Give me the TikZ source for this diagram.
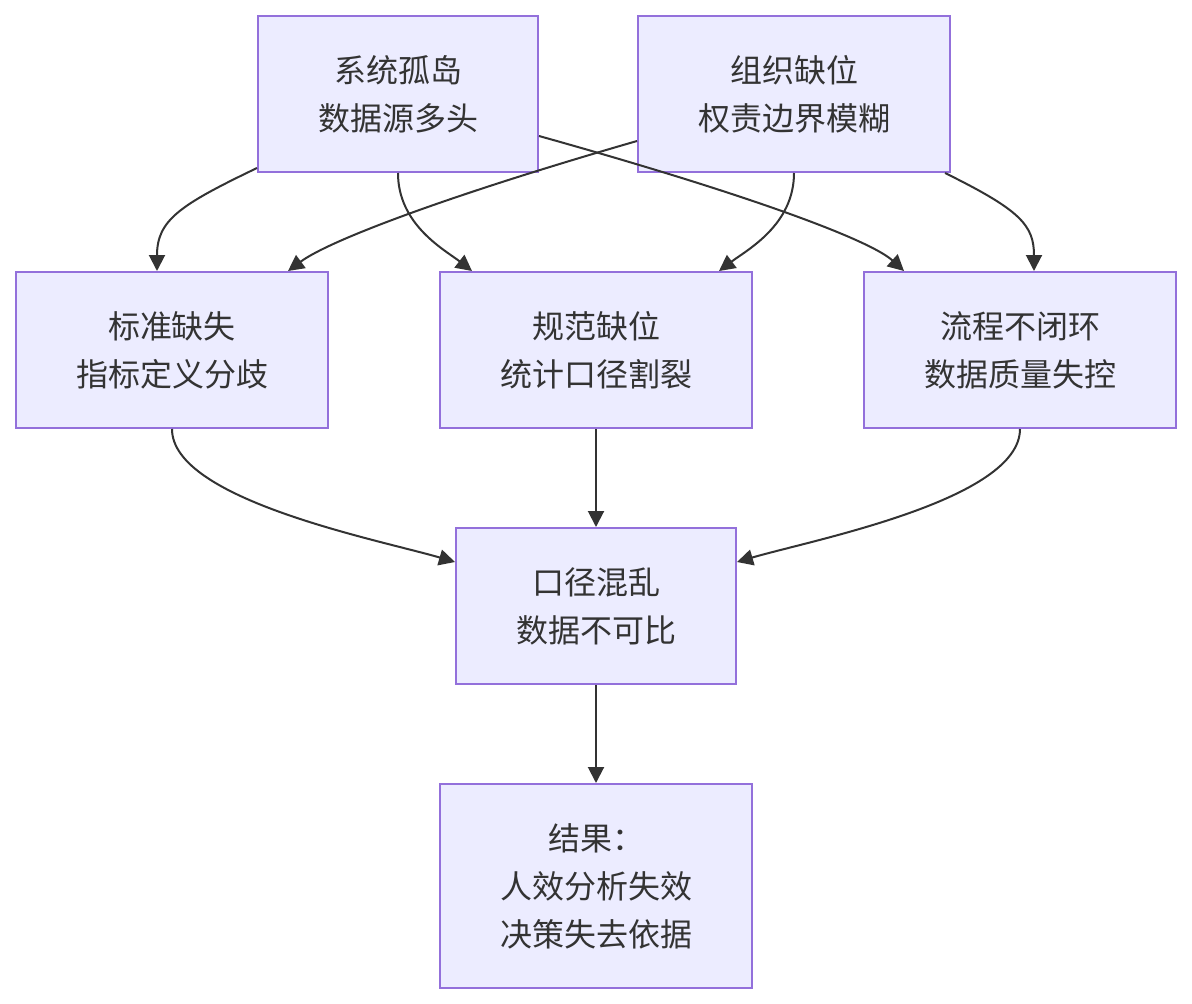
\documentclass[tikz,border=0pt]{standalone}
\usepackage{fontspec}
\setmainfont{Noto Sans CJK SC}
\usepackage{tikz}
\usetikzlibrary{arrows.meta,calc}
\definecolor{boxfill}{HTML}{ECECFF}
\definecolor{boxline}{HTML}{9370DB}
\definecolor{inkgrey}{HTML}{333333}
\tikzset{
  issue/.style={rectangle,draw=boxline,line width=2pt,fill=boxfill,
    align=center,text=inkgrey,inner sep=0pt,
    font=\fontsize{32}{48}\selectfont},
  flow/.style={-{Triangle[length=16pt,width=16pt]},line width=2pt,draw=inkgrey}
}

\begin{document}
\begin{tikzpicture}[x=1pt,y=-1pt]
  \useasboundingbox (0,0) rectangle (1192,1004);
  % top row: root causes
  \node[issue,minimum width=280pt,minimum height=156pt] (silo) at (398,94) {系统孤岛\\数据源多头};
  \node[issue,minimum width=312pt,minimum height=156pt] (org) at (794,94) {组织缺位\\权责边界模糊};
  % middle row
  \node[issue,minimum width=312pt,minimum height=156pt] (std) at (172,350) {标准缺失\\指标定义分歧};
  \node[issue,minimum width=312pt,minimum height=156pt] (spec) at (596,350) {规范缺位\\统计口径割裂};
  \node[issue,minimum width=312pt,minimum height=156pt] (proc) at (1020,350) {流程不闭环\\数据质量失控};
  % outcome
  \node[issue,minimum width=280pt,minimum height=156pt] (mess) at (596,606) {口径混乱\\数据不可比};
  \node[issue,minimum width=312pt,minimum height=204pt] (result) at (596,886) {结果：\\人效分析失效\\决策失去依据};

  \draw[flow] ([yshift=5pt]silo.south west) .. controls (180,205) and (157,220) .. ([xshift=-15pt]std.north);
  \draw[flow] (silo.south) .. controls (398,225) and (445,250) .. ([xshift=33pt]spec.north west);
  \draw[flow] ([yshift=37pt]silo.south east) .. controls (750,195) and (870,240) .. ([xshift=41pt]proc.north west);
  \draw[flow] ([yshift=32pt]org.south west) .. controls (450,195) and (330,240) .. ([xshift=-41pt]std.north east);
  \draw[flow] (org.south) .. controls (794,225) and (747,250) .. ([xshift=-34pt]spec.north east);
  \draw[flow] ([xshift=-6pt]org.south east) .. controls (1020,210) and (1034,225) .. ([xshift=14pt]proc.north);
  \draw[flow] (std.south) .. controls (172,500) and (380,540) .. ([yshift=-35pt]mess.north west);
  \draw[flow] (spec.south) -- (mess.north);
  \draw[flow] (proc.south) .. controls (1020,500) and (812,540) .. ([yshift=-35pt]mess.north east);
  \draw[flow] (mess.south) -- (result.north);
\end{tikzpicture}
\end{document}
